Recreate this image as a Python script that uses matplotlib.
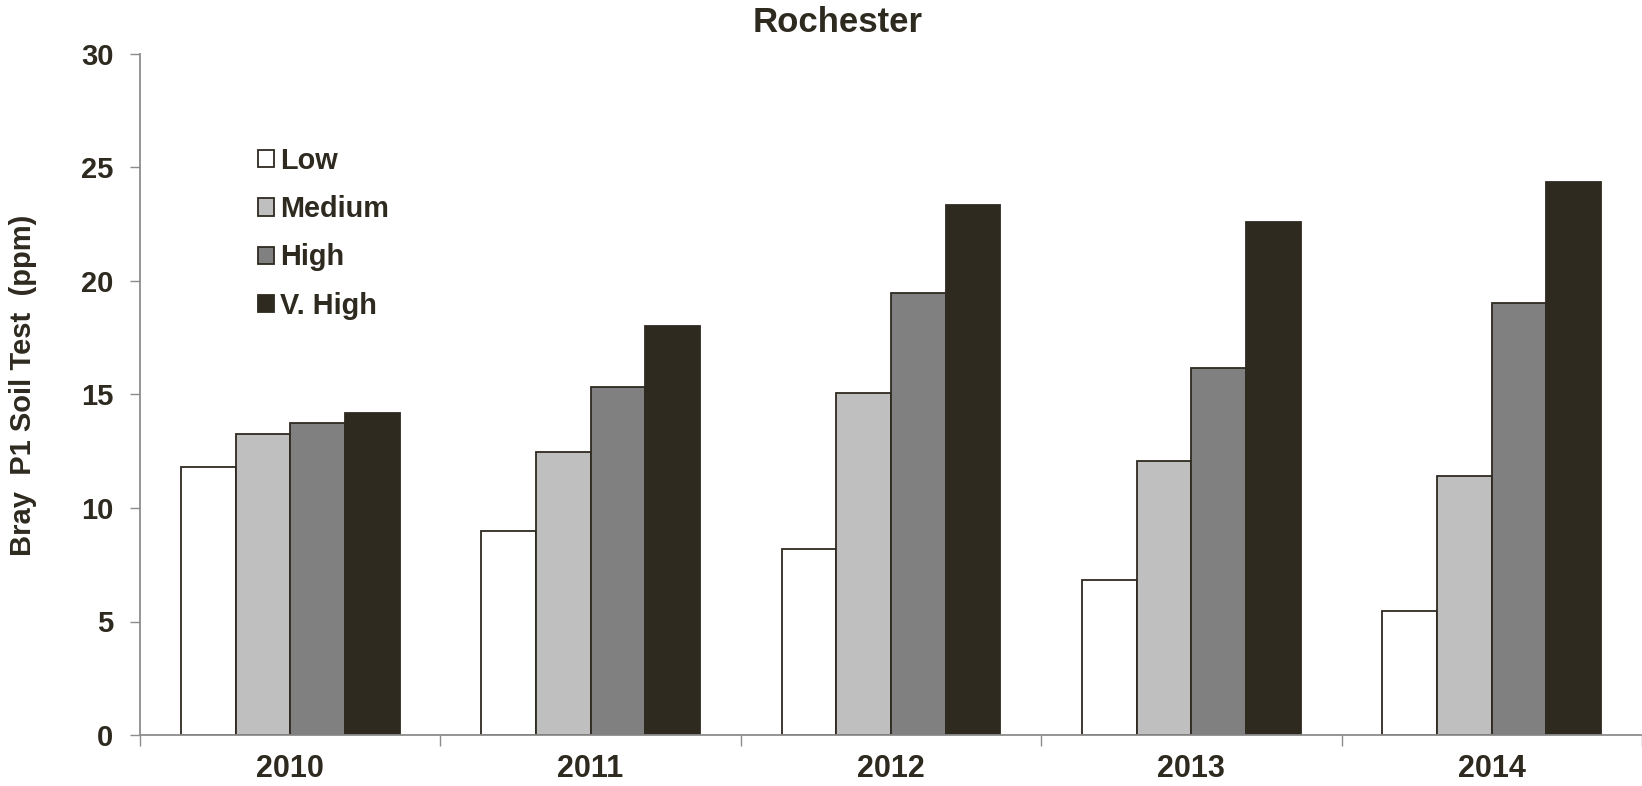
import numpy as np
import matplotlib
matplotlib.use("Agg")
import matplotlib.pyplot as plt
from matplotlib.patches import Patch

# data
years = ["2010", "2011", "2012", "2013", "2014"]
series = ["Low", "Medium", "High", "V. High"]
low = [11.8, 9.0, 8.2, 6.85, 5.45]
medium = [13.25, 12.45, 15.05, 12.05, 11.4]
high = [13.75, 15.35, 19.45, 16.15, 19.05]
vhigh = [14.2, 18.0, 23.35, 22.6, 24.35]

colors = ["#ffffff", "#bfbfbf", "#808080", "#2e2a20"]
text_col = "#2e2a20"

plt.rcParams["font.family"] = ["Liberation Sans", "DejaVu Sans"]
plt.rcParams["font.weight"] = "bold"

fig = plt.figure(figsize=(16.42, 7.86), dpi=100)
ax = fig.add_axes([140 / 1642, 1 - 735 / 786, 1 - 140 / 1642, (735 - 54) / 786])

x = np.arange(len(years))
w = 0.182
for i, (vals, c) in enumerate(zip([low, medium, high, vhigh], colors)):
    ax.bar(x + (i - 1.5) * w, vals, width=w, color=c,
           edgecolor=text_col, linewidth=1.3, label=series[i], zorder=2)

ax.set_xlim(-0.5, len(years) - 0.5)
ax.set_ylim(0, 30)
ax.set_yticks(range(0, 31, 5))
ax.set_xticks(x)
ax.set_xticklabels(years)
ax.set_xticks(np.arange(-0.5, len(years)), minor=True)
ax.tick_params(axis="x", which="major", length=0, pad=14, labelsize=22, labelcolor=text_col)
ax.tick_params(axis="x", which="minor", length=8, width=1, color="#8c8c8c", direction="out")
ax.tick_params(axis="y", length=7, width=1, color="#8c8c8c", labelsize=21,
               labelcolor=text_col, pad=12)
for t in ax.get_xticklabels() + ax.get_yticklabels():
    t.set_fontweight("bold")

for s in ["top", "right"]:
    ax.spines[s].set_visible(False)
for s in ["left", "bottom"]:
    ax.spines[s].set_color("#8c8c8c")
    ax.spines[s].set_linewidth(1.3)

handles = [Patch(facecolor=c, edgecolor=text_col, linewidth=1.3) for c in colors]
leg = ax.legend(handles, series, loc="upper left", bbox_to_anchor=(258 / 1642, 1 - 147 / 786),
                bbox_transform=fig.transFigure, frameon=False, fontsize=20.8,
                handlelength=0.55, handleheight=0.55, handletextpad=0.2,
                labelspacing=0.7, borderpad=0, borderaxespad=0)
for t in leg.get_texts():
    t.set_color(text_col)
    t.set_fontweight("bold")

fig.text(838 / 1642, 1 - 23 / 786, "Rochester", ha="center", va="center",
         fontsize=25, fontweight="bold", color=text_col)
fig.text(23 / 1642, 1 - 385 / 786, "Bray  P1 Soil Test  (ppm)", rotation=90,
         ha="center", va="center", fontsize=21, fontweight="bold", color=text_col)

fig.savefig("out.png", dpi=100)
